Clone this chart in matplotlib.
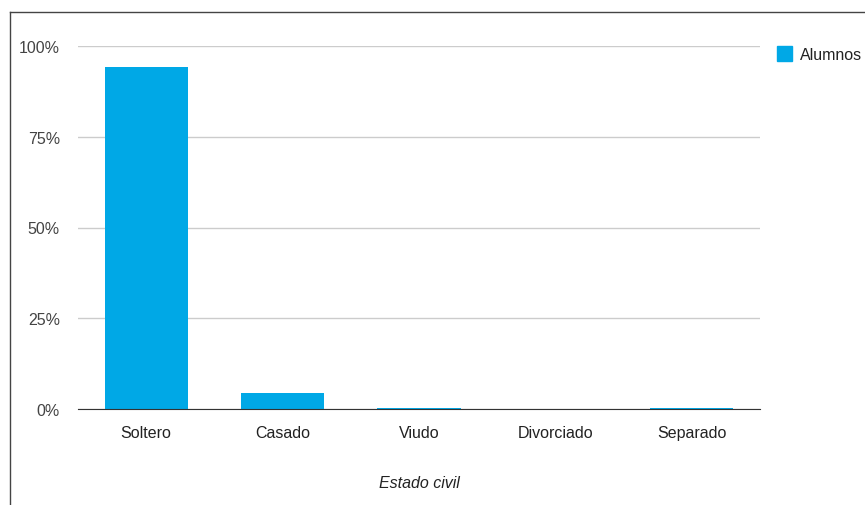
import matplotlib.pyplot as plt
from matplotlib.lines import Line2D
from matplotlib.patches import Rectangle

categorias = ["Soltero", "Casado", "Viudo", "Divorciado", "Separado"]
alumnos = [94.2, 4.3, 0.4, 0.0, 0.4]
ticks_y = [0, 25, 50, 75, 100]
etiquetas_y = ["0%", "25%", "50%", "75%", "100%"]

plt.rcParams['font.family'] = ['Liberation Sans', 'DejaVu Sans']

W, H = 865, 506
fig = plt.figure(figsize=(W / 100, H / 100), dpi=100)
# plot area in pixels: x 78..760, y 47..410
ax = fig.add_axes([78 / W, 1 - 410 / H, (760 - 78) / W, (410 - 47) / H])

azul = "#00a8e6"
fs = 11.5
ax.bar(range(len(categorias)), alumnos, width=0.61, color=azul, zorder=3)

ax.set_xlim(-0.5, len(categorias) - 0.5)
ax.set_ylim(0, 100)
ax.set_yticks(ticks_y)
ax.set_yticklabels(etiquetas_y, color="#444444", fontsize=fs)
ax.set_xticks(range(len(categorias)))
ax.set_xticklabels(categorias, color="#222222", fontsize=fs)
ax.tick_params(axis="both", length=0)
ax.tick_params(axis="y", pad=13)
ax.tick_params(axis="x", pad=11.5)

ax.grid(axis="y", color="#cccccc", linewidth=1, zorder=0)
for s in ["top", "right", "left"]:
    ax.spines[s].set_visible(False)
ax.spines["bottom"].set_color("#333333")
ax.spines["bottom"].set_zorder(4)

ax.set_xlabel("Estado civil", fontstyle="italic", color="#222222", fontsize=fs, labelpad=25)

# legend
fig.patches.append(Rectangle((777 / W, 1 - 62 / H), 15 / W, 15 / H,
                             transform=fig.transFigure, color=azul))
fig.text(800 / W, 1 - 55 / H, "Alumnos", fontsize=fs, color="#222222", va="center", ha="left")

# outer border lines
fig.add_artist(Line2D([9.5 / W, 9.5 / W], [0, 1 - 12.5 / H], color="#444444", linewidth=1))
fig.add_artist(Line2D([9.5 / W, 1], [1 - 12.5 / H, 1 - 12.5 / H], color="#444444", linewidth=1))

fig.savefig("out.png", dpi=100)
